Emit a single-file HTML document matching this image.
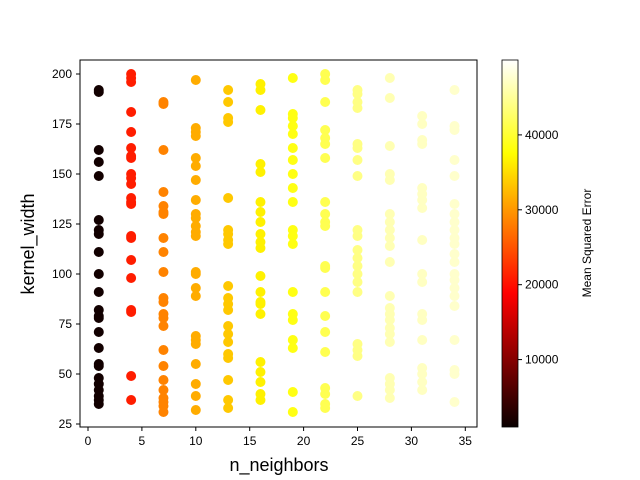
<!DOCTYPE html>
<html><head><meta charset="utf-8"><style>body{margin:0;background:#fff}svg{display:block;font-family:"Liberation Sans",sans-serif}</style></head>
<body>
<svg id="c" width="640" height="480" viewBox="0 0 640 480">
<defs><linearGradient id="hot" x1="0" y1="1" x2="0" y2="0">
<stop offset="0" stop-color="#0a0000"/><stop offset="0.365" stop-color="#ff0000"/><stop offset="0.746" stop-color="#ffff00"/><stop offset="1" stop-color="#ffffff"/></linearGradient></defs>
<g id="pts"></g>
<rect x="80" y="60" width="397" height="367" fill="none" stroke="#000" stroke-width="1"/>
<g id="ax"></g>
<text x="279" y="471" font-size="18" text-anchor="middle">n_neighbors</text>
<text x="34" y="244" font-size="18" text-anchor="middle" transform="rotate(-90 34 244)">kernel_width</text>
<rect x="502" y="60" width="16" height="367" fill="url(#hot)" stroke="#000" stroke-width="0.8"/>
<g id="cb"></g>
<text x="591" y="243" font-size="12" text-anchor="middle" transform="rotate(-90 591 243)">Mean Squared Error</text>
</svg>
<script>
const neighbors=[1,4,7,10,13,16,19,22,25,28,31,34];
const columnMSE=[1500,21000,28500,31500,33500,36500,38500,41500,44000,46300,47000,47500];
const widths=[
[192,191,162,156,149,127,122,120,111,100,91,82,79,78,71,63,55,54,48,45,42,39,37,35],
[200,198,196,181,171,163,159,158,150,148,145,138,136,135,119,118,107,98,82,81,49,37],
[186,185,162,141,134,131,130,118,111,101,88,86,80,78,74,62,54,47,42,38,36,34,31],
[197,173,171,169,158,154,147,137,130,128,124,121,119,101,100,93,89,69,67,65,55,45,39,32],
[192,186,178,176,138,122,120,117,115,94,88,85,82,74,70,66,60,58,47,37,33],
[195,192,182,155,151,136,131,126,120,116,113,99,91,86,85,80,56,51,46,40,37],
[198,180,178,174,170,163,157,150,143,136,122,119,115,91,80,77,67,63,41,31],
[200,197,186,172,168,165,158,136,130,126,124,104,103,91,79,71,61,43,40,35,33],
[192,190,186,183,165,163,157,149,122,119,112,108,104,100,96,91,65,62,59,39],
[198,188,164,150,147,130,126,122,118,114,106,89,83,80,77,73,70,66,48,45,42,38],
[179,175,167,165,143,140,137,133,117,100,96,80,77,67,53,50,46,42],
[192,174,172,157,149,135,130,126,122,118,115,110,106,100,97,93,89,84,67,52,50,36]];
const xTicks=[0,5,10,15,20,25,30,35];
const yTicks=[25,50,75,100,125,150,175,200];
const cbTicks=[10000,20000,30000,40000];
const vmin=1000,vmax=50000;
const NS='http://www.w3.org/2000/svg';
const X=v=>88+v*10.78, Y=v=>74+(200-v)*2, CY=v=>427-(v-vmin)/(vmax-vmin)*367;
function hot(v){const t=Math.max(0,Math.min(1,(v-vmin)/(vmax-vmin)));
const r=Math.min(1,0.0416+t/0.365),g=Math.max(0,Math.min(1,(t-0.365)/0.381)),b=Math.max(0,Math.min(1,(t-0.746)/0.254));
return `rgb(${Math.round(r*255)},${Math.round(g*255)},${Math.round(b*255)})`;}
function mk(tag,a,p){const e=document.createElementNS(NS,tag);for(const k in a)e.setAttribute(k,a[k]);p.appendChild(e);return e;}
const pts=document.getElementById('pts');
neighbors.forEach((n,i)=>{widths[i].forEach(w=>{
const c=mk('circle',{cx:X(n),cy:Y(w),r:5,fill:hot(columnMSE[i])},pts);

});});
const ax=document.getElementById('ax');
xTicks.forEach(t=>{mk('line',{x1:X(t),x2:X(t),y1:427,y2:431,stroke:'#000'},ax);
const e=mk('text',{x:X(t),y:445,'font-size':12,'text-anchor':'middle'},ax);e.textContent=t;

});
yTicks.forEach(t=>{mk('line',{x1:76,x2:80,y1:Y(t),y2:Y(t),stroke:'#000'},ax);
const e=mk('text',{x:72,y:Y(t)+4,'font-size':12,'text-anchor':'end'},ax);e.textContent=t;

});
const cb=document.getElementById('cb');
cbTicks.forEach(t=>{mk('line',{x1:518,x2:522,y1:CY(t),y2:CY(t),stroke:'#000'},cb);
const e=mk('text',{x:525,y:CY(t)+4,'font-size':12},cb);e.textContent=t;

});
</script>
</body></html>
